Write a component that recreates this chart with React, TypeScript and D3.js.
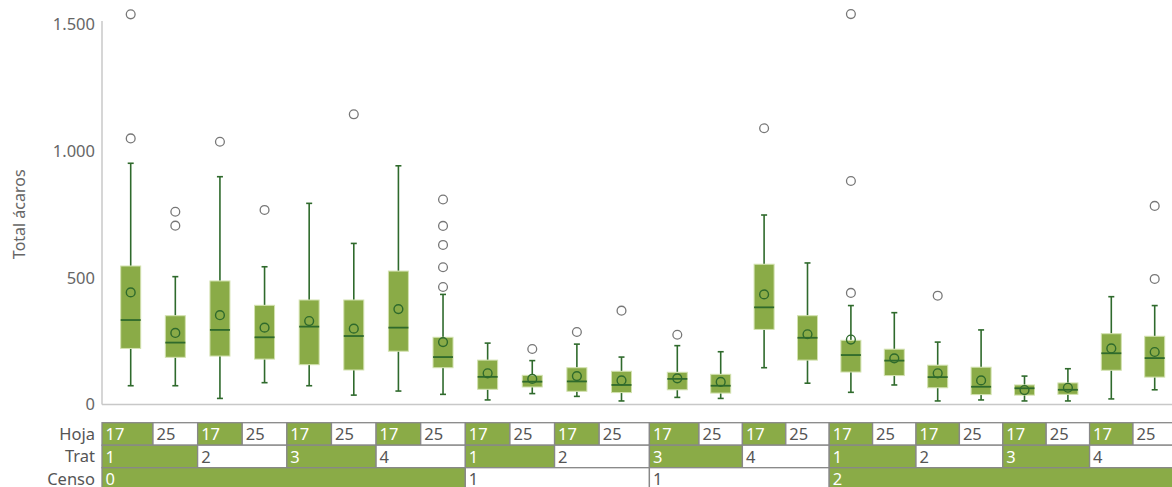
import React from "react";
import * as d3 from "d3";

// Per-cell summary statistics of "Total ácaros" (one entry per box, left to right)
const hoja = [17, 25, 17, 25, 17, 25, 17, 25, 17, 25, 17, 25, 17, 25, 17, 25, 17, 25, 17, 25, 17, 25, 17, 25];
const trat = [1, 1, 2, 2, 3, 3, 4, 4, 1, 1, 2, 2, 3, 3, 4, 4, 1, 1, 2, 2, 3, 3, 4, 4];
// census block of each box and the label each block shows
const censoBlock = [0, 0, 0, 0, 0, 0, 0, 0, 1, 1, 1, 1, 2, 2, 2, 2, 3, 3, 3, 3, 3, 3, 3, 3];
const censoLabels = ["0", "1", "1", "2"];

const whiskerLow = [74, 74, 24, 86, 74, 37, 53, 40, 18, 43, 32, 14, 28, 24, 145, 84, 48, 77, 14, 18, 14, 14, 22, 58];
const q1 = [221, 186, 191, 179, 157, 136, 210, 145, 60, 69, 52, 47, 58, 45, 296, 175, 128, 114, 66, 39, 37, 40, 135, 108];
const median = [333, 244, 294, 265, 307, 270, 303, 187, 109, 90, 91, 77, 101, 74, 383, 263, 195, 173, 108, 70, 64, 58, 202, 183];
const q3 = [546, 350, 487, 391, 412, 412, 526, 265, 175, 115, 145, 131, 127, 119, 553, 350, 253, 218, 155, 147, 77, 85, 279, 269];
const whiskerHigh = [951, 504, 898, 543, 793, 635, 941, 434, 242, 173, 238, 187, 232, 208, 747, 558, 390, 362, 246, 294, 112, 141, 425, 390];
const mean = [442, 282, 352, 303, 329, 299, 376, 246, 123, 101, 112, 95, 103, 89, 434, 277, 256, 182, 123, 95, 57, 66, 221, 207];
const outliers: number[][] = [
  [1049, 1538], [705, 760], [1036], [767], [], [1144], [], [463, 541, 629, 704, 808],
  [], [219], [286], [370],
  [275], [], [1089], [],
  [440, 881, 1539], [], [429], [], [], [], [], [495, 783],
];

const yTicks = [0, 500, 1000, 1500];

const W = 1172;
const H = 487;
const GREEN = "#8aab47";
const DARK = "#2f6a2c";
const FONT = "'Noto Sans', sans-serif";

const fmt = (v: number) => d3.format(",")(v).replace(/,/g, ".");

export default function App() {
  const axisX = 102;
  const y = d3.scaleLinear().domain([0, 1500]).range([404.5, 24]);

  // the chart is laid out in two panels (censo 0 + first censo 1, second censo 1 + censo 2)
  const idx = d3.range(hoja.length);
  const xA = d3.scalePoint<number>().domain(idx.slice(0, 12)).range([130.7, 621.5]);
  const xB = d3.scalePoint<number>().domain(idx.slice(12)).range([677.3, 1154.7]);
  const x = (i: number) => (i < 12 ? (xA(i) as number) : (xB(i) as number));

  const boxW = 20;
  const capW = 6;

  // cell edges sit halfway between neighbouring boxes
  const edges = idx.map((i) => (i === 0 ? axisX : (x(i - 1) + x(i)) / 2));
  edges.push(W + 10);

  const runs = (keys: (string | number)[], labels: string[], green: boolean[]) => {
    const out: { x0: number; x1: number; label: string; green: boolean }[] = [];
    let start = 0;
    for (let i = 1; i <= keys.length; i++) {
      if (i === keys.length || keys[i] !== keys[start]) {
        out.push({ x0: edges[start], x1: edges[i], label: labels[start], green: green[start] });
        start = i;
      }
    }
    return out;
  };

  const hojaLevels = [17, 25];
  const tratLevels = [1, 2, 3, 4];
  const rows = [
    {
      name: "Hoja",
      cells: runs(
        idx.map((i) => i),
        hoja.map(String),
        hoja.map((h) => hojaLevels.indexOf(h) % 2 === 0)
      ),
    },
    {
      name: "Trat",
      cells: runs(
        idx.map((i) => `${censoBlock[i]}-${trat[i]}`),
        trat.map(String),
        trat.map((t) => tratLevels.indexOf(t) % 2 === 0)
      ),
    },
    {
      name: "Censo",
      cells: runs(
        censoBlock,
        censoBlock.map((b) => censoLabels[b]),
        censoBlock.map((b) => Number(censoLabels[b]) % 2 === 0)
      ),
    },
  ];
  const tableTop = 422.7;
  const rowH = 22.5;

  return (
    <svg
      width={W}
      height={H}
      style={{ position: "absolute", left: 0, top: 0, background: "#fff" }}
      fontFamily={FONT}
    >
      {/* axes */}
      <line x1={axisX} x2={axisX} y1={21} y2={y(0)} stroke="#c8c8c8" strokeWidth={1.5} />
      <line x1={axisX} x2={W} y1={y(0)} y2={y(0)} stroke="#c8c8c8" strokeWidth={1.5} />
      {yTicks.map((t) => (
        <text
          key={t}
          x={95}
          y={y(t)}
          dy="0.36em"
          textAnchor="end"
          fontSize={16.5}
          fill="#666"
        >
          {fmt(t)}
        </text>
      ))}
      <text
        transform={`translate(25,${(y(0) + y(1500)) / 2}) rotate(-90)`}
        textAnchor="middle"
        fontSize={16}
        fill="#666"
      >
        Total ácaros
      </text>

      {/* boxes */}
      {idx.map((i) => {
        const cx = x(i);
        return (
          <g key={i}>
            <line x1={cx} x2={cx} y1={y(whiskerHigh[i])} y2={y(q3[i])} stroke={DARK} strokeWidth={1.6} />
            <line x1={cx} x2={cx} y1={y(q1[i])} y2={y(whiskerLow[i])} stroke={DARK} strokeWidth={1.6} />
            <line x1={cx - capW / 2} x2={cx + capW / 2} y1={y(whiskerHigh[i])} y2={y(whiskerHigh[i])} stroke={DARK} strokeWidth={1.6} />
            <line x1={cx - capW / 2} x2={cx + capW / 2} y1={y(whiskerLow[i])} y2={y(whiskerLow[i])} stroke={DARK} strokeWidth={1.6} />
            <rect
              x={cx - boxW / 2}
              y={y(q3[i])}
              width={boxW}
              height={y(q1[i]) - y(q3[i])}
              fill={GREEN}
              stroke="#d3e2b0"
              strokeWidth={1}
            />
            <line x1={cx - boxW / 2} x2={cx + boxW / 2} y1={y(median[i])} y2={y(median[i])} stroke={DARK} strokeWidth={1.8} />
            <circle cx={cx} cy={y(mean[i])} r={4.4} fill="none" stroke={DARK} strokeWidth={1.4} />
            {outliers[i].map((o, k) => (
              <circle key={k} cx={cx} cy={y(o)} r={4.4} fill="#fff" stroke="#777" strokeWidth={1.3} />
            ))}
          </g>
        );
      })}

      {/* grouping table */}
      {rows.map((row, r) => {
        const top = tableTop + r * rowH;
        return (
          <g key={row.name}>
            <text x={95} y={top + rowH / 2} dy="0.36em" textAnchor="end" fontSize={16.5} fill="#555">
              {row.name}
            </text>
            {row.cells.map((c, k) => (
              <g key={k}>
                <rect
                  x={c.x0}
                  y={top}
                  width={c.x1 - c.x0}
                  height={rowH}
                  fill={c.green ? GREEN : "#fff"}
                  stroke="#888"
                  strokeWidth={1.3}
                />
                <text
                  x={c.x0 + 3.5}
                  y={top + rowH / 2}
                  dy="0.38em"
                  fontSize={16.5}
                  fill={c.green ? "#fff" : "#555"}
                >
                  {c.label}
                </text>
              </g>
            ))}
          </g>
        );
      })}
    </svg>
  );
}
